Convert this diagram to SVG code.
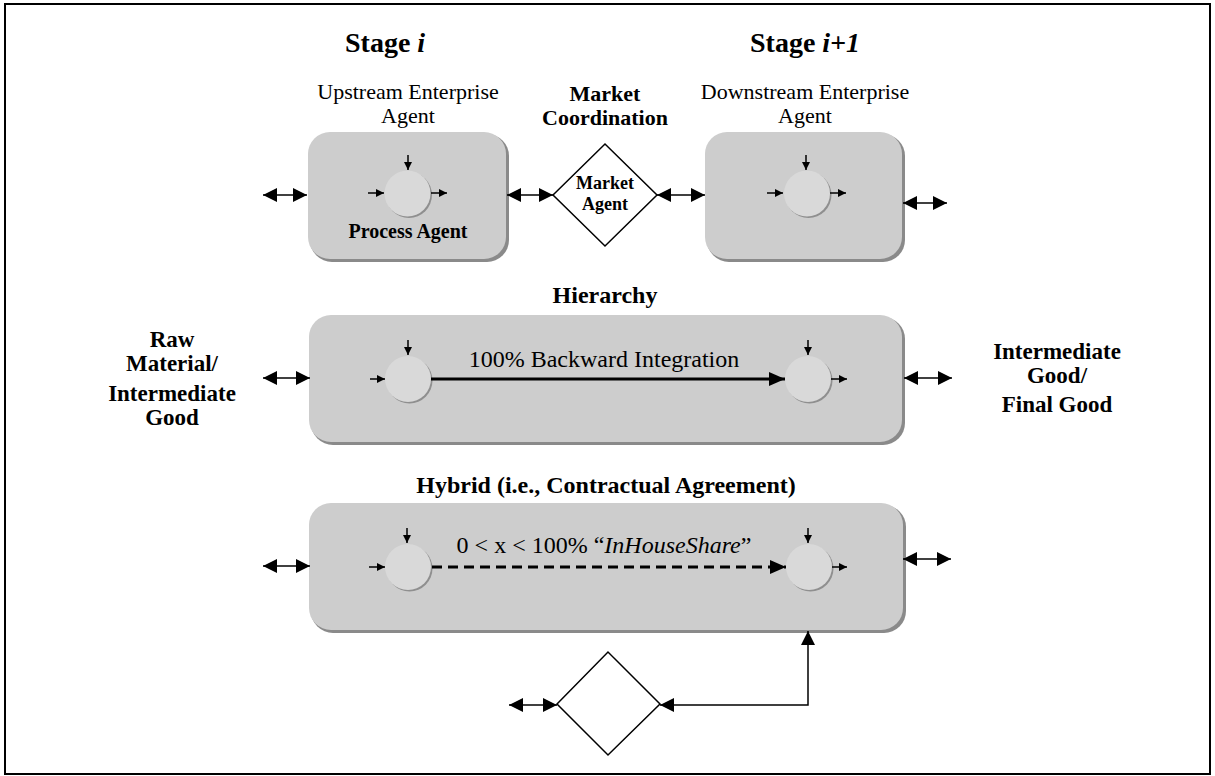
<svg xmlns="http://www.w3.org/2000/svg" width="1215" height="776" viewBox="0 0 1215 776">
<style>
.frame{fill:#fff;stroke:#000;stroke-width:2}
.box{fill:#cdcdcd;stroke:none}
.boxsh{fill:#8a8a8a}
.circ{fill:#d9d9d9}
.circsh{fill:#8f8f8f}
.dia{fill:#fff;stroke:#000;stroke-width:1.5}
.t{font-family:"Liberation Serif","Times New Roman",serif;fill:#000}
.b{font-weight:bold}
.n{font-weight:normal}
.dbl{stroke:#000;stroke-width:1.5;fill:none;marker-start:url(#bigS);marker-end:url(#bigE)}
.sm{stroke:#000;stroke-width:1.5;fill:none;marker-end:url(#smE)}
.thick{stroke:#000;stroke-width:3;fill:none;marker-end:url(#thE)}
.dash{stroke:#000;stroke-width:3;fill:none;stroke-dasharray:10 6;marker-end:url(#thE)}
</style>
<defs>
<marker id="bigE" markerUnits="userSpaceOnUse" markerWidth="14" markerHeight="14" refX="14" refY="7" orient="auto"><path d="M0,0 L14,7 L0,14 z" fill="#000"/></marker>
<marker id="bigS" markerUnits="userSpaceOnUse" markerWidth="14" markerHeight="14" refX="14" refY="7" orient="auto-start-reverse"><path d="M0,0 L14,7 L0,14 z" fill="#000"/></marker>
<marker id="smE" markerUnits="userSpaceOnUse" markerWidth="8" markerHeight="8" refX="8" refY="4" orient="auto"><path d="M0,0 L8,4 L0,8 z" fill="#000"/></marker>
<marker id="thE" markerUnits="userSpaceOnUse" markerWidth="16" markerHeight="14" refX="16" refY="7" orient="auto"><path d="M0,0 L16,7 L0,14 z" fill="#000"/></marker>
</defs>
<rect class="frame" x="5" y="4" width="1205" height="770"/>

<g id="titles">
<text class="t b" x="345" y="52" font-size="28">Stage <tspan font-style="italic">i</tspan></text>
<text class="t b" x="750" y="52" font-size="28">Stage <tspan font-style="italic">i+1</tspan></text>
</g>

<g id="upstream">
<text class="t n" x="408" y="99" font-size="22" text-anchor="middle">Upstream Enterprise</text>
<text class="t n" x="408" y="123" font-size="22" text-anchor="middle">Agent</text>
<rect class="boxsh" x="310" y="134" width="199" height="128" rx="22"/>
<rect class="box" x="308" y="132" width="198" height="127" rx="22"/>
<circle class="circsh" cx="409" cy="195" r="23"/>
<circle class="circ" cx="407.5" cy="193.5" r="23"/>
<path class="sm" d="M408,155 V170"/>
<path class="sm" d="M368,193 H384"/>
<path class="sm" d="M431,193 H447"/>
<text class="t b" x="408" y="238" font-size="20" text-anchor="middle">Process Agent</text>
</g>

<g id="market">
<text class="t b" x="605" y="101" font-size="22" text-anchor="middle">Market</text>
<text class="t b" x="605" y="125" font-size="22" text-anchor="middle">Coordination</text>
<polygon class="dia" points="553,195 605,144 657,195 605,246"/>
<text class="t b" x="605" y="189" font-size="18" text-anchor="middle">Market</text>
<text class="t b" x="605" y="210" font-size="18" text-anchor="middle">Agent</text>
</g>

<g id="downstream">
<text class="t n" x="805" y="99" font-size="22" text-anchor="middle">Downstream Enterprise</text>
<text class="t n" x="805" y="123" font-size="22" text-anchor="middle">Agent</text>
<rect class="boxsh" x="707" y="134" width="198" height="128" rx="22"/>
<rect class="box" x="705" y="132" width="197" height="127" rx="22"/>
<circle class="circsh" cx="808.5" cy="195" r="23"/>
<circle class="circ" cx="807" cy="193.5" r="23"/>
<path class="sm" d="M806,155 V170"/>
<path class="sm" d="M767,193 H783"/>
<path class="sm" d="M830,193 H846"/>
</g>

<g id="hierarchy">
<text class="t b" x="605" y="303" font-size="24" text-anchor="middle">Hierarchy</text>
<rect class="boxsh" x="311" y="317" width="594" height="128" rx="22"/>
<rect class="box" x="309" y="315" width="593" height="127" rx="22"/>
<circle class="circsh" cx="409.5" cy="380.5" r="23"/>
<circle class="circ" cx="408" cy="379" r="23"/>
<circle class="circsh" cx="809.5" cy="380.5" r="23"/>
<circle class="circ" cx="808" cy="379" r="23"/>
<path class="sm" d="M408,340 V355"/>
<path class="sm" d="M370,379 H385"/>
<path class="sm" d="M808,340 V355"/>
<path class="sm" d="M831,379 H847"/>
<text class="t n" x="604" y="367" font-size="24" text-anchor="middle">100% Backward Integration</text>
</g>

<g id="left-label">
<text class="t b" x="172" y="347" font-size="23" text-anchor="middle">Raw</text>
<text class="t b" x="172" y="371" font-size="23" text-anchor="middle">Material/</text>
<text class="t b" x="172" y="401" font-size="23" text-anchor="middle">Intermediate</text>
<text class="t b" x="172" y="425" font-size="23" text-anchor="middle">Good</text>
</g>

<g id="right-label">
<text class="t b" x="1057" y="359" font-size="23" text-anchor="middle">Intermediate</text>
<text class="t b" x="1057" y="383" font-size="23" text-anchor="middle">Good/</text>
<text class="t b" x="1057" y="412" font-size="23" text-anchor="middle">Final Good</text>
</g>

<g id="hybrid">
<text class="t b" x="606" y="493" font-size="24" text-anchor="middle">Hybrid (i.e., Contractual Agreement)</text>
<rect class="boxsh" x="311" y="505" width="595" height="128" rx="22"/>
<rect class="box" x="309" y="503" width="594" height="127" rx="22"/>
<circle class="circsh" cx="409.5" cy="568.5" r="23"/>
<circle class="circ" cx="408" cy="567" r="23"/>
<circle class="circsh" cx="810.5" cy="568.5" r="23"/>
<circle class="circ" cx="809" cy="567" r="23"/>
<path class="sm" d="M407,528 V543"/>
<path class="sm" d="M369,567 H385"/>
<path class="sm" d="M808,528 V543"/>
<path class="sm" d="M832,567 H847"/>
<text class="t n" x="604" y="553" font-size="24" text-anchor="middle">0 &lt; x &lt; 100% “<tspan font-style="italic">InHouseShare</tspan>”</text>
</g>

<g id="market2">
<polygon class="dia" points="557,704 608,652 660,704 608,755"/>
</g>

<g id="connectors">
<path class="dbl" d="M263,195 H307"/>
<path class="dbl" d="M507,195 H553"/>
<path class="dbl" d="M657,195 H705"/>
<path class="dbl" d="M903,203 H947"/>
<path class="dbl" d="M263,378 H310"/>
<path class="dbl" d="M904,378 H952"/>
<path class="dbl" d="M263,566 H310"/>
<path class="dbl" d="M903,559 H951"/>
<path class="dbl" d="M509,705 H557"/>
<path class="dbl" d="M660,705 H808 V631"/>
<path class="thick" d="M431,379 H785"/>
<path class="dash" d="M432,567 H786"/>
</g>
</svg>
